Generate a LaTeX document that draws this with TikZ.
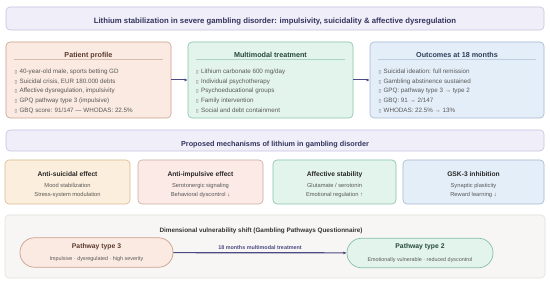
\documentclass[tikz,border=0pt]{standalone}
\usepackage{fontspec}
\setmainfont{Liberation Sans}
\newfontfamily\symfont{DejaVu Sans}
\usepackage{tikz}
\usetikzlibrary{arrows.meta,positioning,calc}
\definecolor{navy}{HTML}{34345E}
\definecolor{listgray}{HTML}{585858}
\definecolor{arrowink}{HTML}{4B4A82}
\definecolor{bannerbg}{HTML}{EFEEF9}
\definecolor{bannerline}{HTML}{C6C3DF}
\definecolor{profbg}{HTML}{FBEAE1}
\definecolor{profline}{HTML}{C9A08C}
\definecolor{proftext}{HTML}{5B3A2E}
\definecolor{treatbg}{HTML}{E3F4EC}
\definecolor{treatline}{HTML}{86C2A5}
\definecolor{treattext}{HTML}{24493A}
\definecolor{outbg}{HTML}{E4EEF8}
\definecolor{outline}{HTML}{A3B8D2}
\definecolor{outtext}{HTML}{2C3E5C}
\definecolor{suicbg}{HTML}{FCEEDC}
\definecolor{suicline}{HTML}{D9B98E}
\definecolor{impbg}{HTML}{FBEAE5}
\definecolor{impline}{HTML}{CDAAA2}
\definecolor{shiftbg}{HTML}{F7F6F4}
\definecolor{shiftline}{HTML}{E2E0DC}
\newcommand{\bx}{{\symfont\fontsize{4.6}{4.6}\selectfont ▯}\hspace{2.4pt}}
\tikzset{
  card/.style={rounded corners=4pt, line width=0.6pt, inner sep=0pt},
  bannercard/.style={card, draw=bannerline, fill=bannerbg, minimum width=538pt},
  profcard/.style={card, draw=profline, fill=profbg},
  treatcard/.style={card, draw=treatline, fill=treatbg},
  outcard/.style={card, draw=outline, fill=outbg},
  suiccard/.style={card, draw=suicline, fill=suicbg},
  impcard/.style={card, draw=impline, fill=impbg},
  shiftcard/.style={card, draw=shiftline, fill=shiftbg},
  headtext/.style={anchor=base, inner sep=0pt, font=\bfseries\fontsize{7.75}{8}\selectfont, text=navy},
  cardtitle/.style={anchor=base, inner sep=0pt, font=\bfseries\fontsize{7.2}{8}\selectfont},
  itemlist/.style={anchor=north west, inner sep=0pt, align=left, text=listgray,
                   font=\fontsize{6.25}{9.7}\selectfont},
  mechtext/.style={inner sep=0pt, align=center, text=listgray, font=\fontsize{5.75}{9.4}\selectfont},
  pathnode/.style={rounded corners=14.5pt, line width=0.7pt, minimum height=29.5pt,
                   inner sep=0pt, align=center, text=listgray},
  flowarr/.style={-{Latex[length=3.2pt,width=3pt]}, line width=1pt, color=arrowink}
}

\begin{document}
\begin{tikzpicture}[x=1pt,y=-1pt]
  \fill[white] (0,0) rectangle (550,283);
  \useasboundingbox (0,0) rectangle (550,283);

  % header
  \node[bannercard, minimum height=23pt] (banner) at (275,18.5) {};
  \node[headtext] (bannert) at (275,24) {Lithium stabilization in severe gambling disorder: impulsivity, suicidality \& affective dysregulation};

  % case panels
  \node[profcard, minimum width=165pt, minimum height=76pt] (prof) at (88.5,80) {};
  \node[treatcard, minimum width=165pt, minimum height=76pt] (treat) at (270.5,80) {};
  \node[outcard, minimum width=174pt, minimum height=76pt] (outc) at (457,80) {};

  \node[cardtitle, text=proftext] (proft) at (prof.center |- 0,57.6) {Patient profile};
  \node[cardtitle, text=treattext] (treatt) at (treat.center |- 0,57.6) {Multimodal treatment};
  \node[cardtitle, text=outtext] (outct) at (outc.center |- 0,57.6) {Outcomes at 18 months};

  \draw[profline!70, line width=0.4pt] ([xshift=8pt,yshift=-17.5pt]prof.north west) -- ([xshift=-8pt,yshift=-17.5pt]prof.north east);
  \draw[treatline!70, line width=0.4pt] ([xshift=8pt,yshift=-17.5pt]treat.north west) -- ([xshift=-8pt,yshift=-17.5pt]treat.north east);
  \draw[outline!70, line width=0.4pt] ([xshift=8pt,yshift=-17.5pt]outc.north west) -- ([xshift=-8pt,yshift=-17.5pt]outc.north east);

  \node[itemlist] (profl) at (14.5,68.6) {%
    \bx 40-year-old male, sports betting GD\\
    \bx Suicidal crisis, EUR 180.000 debts\\
    \bx Affective dysregulation, impulsivity\\
    \bx GPQ pathway type 3 (impulsive)\\
    \bx GBQ score: 91/147 — WHODAS: 22.5\%};
  \node[itemlist] (treatl) at (196,68.6) {%
    \bx Lithium carbonate 600 mg/day\\
    \bx Individual psychotherapy\\
    \bx Psychoeducational groups\\
    \bx Family intervention\\
    \bx Social and debt containment};
  \node[itemlist] (outcl) at (378.5,68.6) {%
    \bx Suicidal ideation: full remission\\
    \bx Gambling abstinence sustained\\
    \bx GPQ: pathway type 3 → type 2\\
    \bx GBQ: 91 → 2/147\\
    \bx WHODAS: 22.5\% → 13\%};

  \draw[flowarr] (prof) -- (treat);
  \draw[flowarr] (treat) -- (outc);

  % mechanisms
  \node[bannercard, minimum height=21pt] (mech) at (275,140.5) {};
  \node[headtext, font=\bfseries\fontsize{7.25}{8}\selectfont] (mecht) at (275,146.6) {Proposed mechanisms of lithium in gambling disorder};

  \node[suiccard, minimum width=125pt, minimum height=44pt] (suic) at (67.5,182) {};
  \node[impcard, minimum width=125pt, minimum height=44pt] (imp) at (200.5,182) {};
  \node[treatcard, minimum width=123pt, minimum height=44pt] (affect) at (334.5,182) {};
  \node[outcard, minimum width=141pt, minimum height=44pt] (gsk) at (473.5,182) {};

  \node[mechtext] (suict) at (67.5,185) {{\bfseries\fontsize{6.7}{8}\selectfont\color{black!85}Anti-suicidal effect}\\[1.2pt]Mood stabilization\\Stress-system modulation};
  \node[mechtext] (impt) at (200.5,185) {{\bfseries\fontsize{6.7}{8}\selectfont\color{black!85}Anti-impulsive effect}\\[1.2pt]Serotonergic signaling\\Behavioral dyscontrol ↓};
  \node[mechtext] (affectt) at (334.5,185) {{\bfseries\fontsize{6.7}{8}\selectfont\color{black!85}Affective stability}\\[1.2pt]Glutamate / serotonin\\Emotional regulation ↑};
  \node[mechtext] (gskt) at (473.5,185) {{\bfseries\fontsize{6.7}{8}\selectfont\color{black!85}GSK-3 inhibition}\\[1.2pt]Synaptic plasticity\\Reward learning ↓};

  % vulnerability shift
  \node[shiftcard, minimum width=540pt, minimum height=63pt] (shift) at (275,246.5) {};
  \node[headtext, font=\bfseries\fontsize{6.35}{7}\selectfont, text=black!80] (shiftt) at (261,232.4) {Dimensional vulnerability shift (Gambling Pathways Questionnaire)};

  \node[pathnode, draw=profline, fill=profbg, minimum width=153pt] (pw3) at (96.5,252.5)
    {{\bfseries\fontsize{6.8}{8}\selectfont\color{proftext}Pathway type 3}\\[0.3pt]{\fontsize{5.4}{6.5}\selectfont Impulsive · dysregulated · high severity}};
  \node[pathnode, draw=treatline, fill=treatbg, minimum width=146pt] (pw2) at (420,253)
    {{\bfseries\fontsize{6.8}{8}\selectfont\color{treattext}Pathway type 2}\\[0.3pt]{\fontsize{5.4}{6.5}\selectfont Emotionally vulnerable · reduced dyscontrol}};

  \draw[flowarr, line width=1.2pt] (pw3) -- node[above=3pt, inner sep=0pt, font=\bfseries\fontsize{5.4}{6.5}\selectfont, text=arrowink] (shiftlbl) {18 months multimodal treatment} (pw2);
\end{tikzpicture}
\end{document}
